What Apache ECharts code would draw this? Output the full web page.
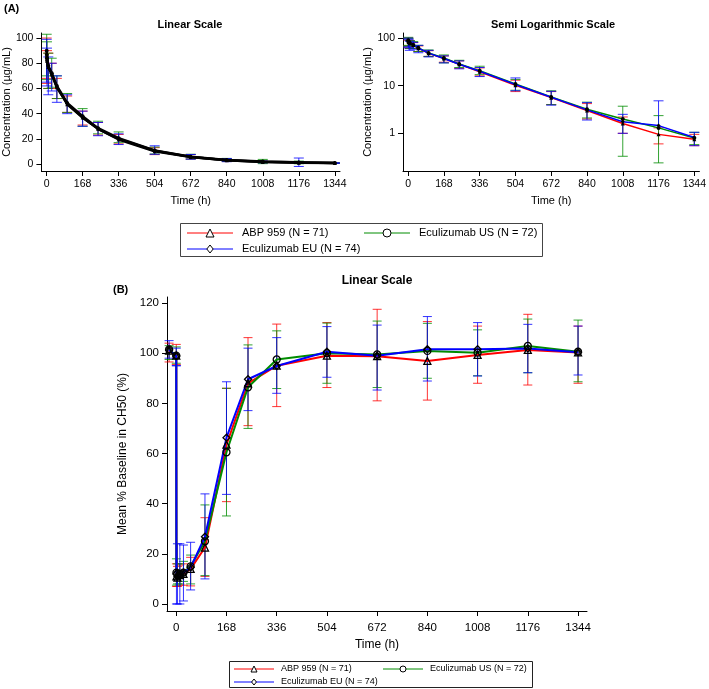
<!DOCTYPE html>
<html>
<head>
<meta charset="utf-8">
<script src="https://cdn.jsdelivr.net/npm/echarts@6/dist/echarts.min.js"></script>
<style>
html, body { margin: 0; padding: 0; background: #fff; }
#chart { width: 709px; height: 689px; }
</style>
</head>
<body>
<div id="chart"></div>
<script>
// (A) concentracao - tempos e medias
const pkTime = [0.6, 2, 8, 24, 48, 96, 168, 240, 336, 504, 672, 840, 1008, 1176, 1344];
const pkAbp   = [88, 82, 77, 71, 61, 47.5, 37, 28, 19.5, 10.2, 5.6, 3.0, 1.6, 0.95, 0.75];
const pkAbpLo = [68, 64, 60, 60, 52, 41, 31, 23, 16, 7.5, 4, 2, 1.0, 0.6, 0.55];
const pkAbpHi = [100, 90, 88, 80, 68, 54, 42, 33, 23.5, 13, 7.5, 4.2, 2.2, 1.3, 0.95];
const pkUs    = [90, 84, 78, 72, 62, 48.5, 38, 28.5, 20.5, 10.8, 5.8, 3.2, 2.0, 1.3, 0.8];
const pkUsLo  = [67, 70, 60, 61, 52, 41, 30, 24, 17, 8, 4, 2.1, 0.33, 0.24, 0.58];
const pkUsHi  = [103, 97, 88, 84, 70, 56, 44, 34, 25.5, 13.5, 7.8, 4.5, 3.7, 2.35, 1.05];
const pkEu    = [87, 82, 77, 72, 61, 48, 37, 28, 20, 10.6, 5.7, 3.1, 1.75, 1.45, 0.82];
const pkEuLo  = [65, 62, 55, 58, 49, 40, 30, 22.5, 15.5, 7.8, 3.9, 1.9, 1.0, -1.9, 0.55];
const pkEuHi  = [99, 92, 85, 80, 70, 55, 42, 33, 24, 14.5, 7.6, 4.4, 2.5, 4.8, 1.05];

// (B) CH50 - % do basal
const pdTime = [-24, 0, 0.6, 4, 12, 24, 48, 96, 168, 240, 336, 504, 672, 840, 1008, 1176, 1344];
const pdAbp   = [101, 99, 11, 10.5, 11.5, 12, 14, 22.5, 63.5, 88, 95, 99, 98.8, 96.9, 99.3, 101.3, 100.3];
const pdAbpLo = [96.5, 95.5, 7, 7, 7.5, 7.5, 7.2, 11, 40.8, 71.1, 78.7, 86.3, 81, 81.3, 88, 87.3, 88];
const pdAbpHi = [104, 103.5, 16, 15, 15.5, 16, 18.6, 34.4, 86, 106.2, 111.6, 112.2, 117.5, 112.6, 110.8, 115.5, 110.8];
const pdUs    = [101.5, 99, 12.5, 12, 12, 12.5, 15, 25, 60.5, 86.4, 97.5, 100, 99.5, 100.9, 100.2, 102.9, 100.6];
const pdUsLo  = [97.5, 96, 7.5, 8, 8, 9, 8, 11.3, 35.1, 70, 85.9, 88, 86.3, 90, 91, 92.2, 88.6];
const pdUsHi  = [103, 102.5, 18, 16, 16, 17, 19.5, 39.5, 86, 103.3, 108.9, 112, 112.8, 111.9, 109.3, 113.6, 113.2];
const pdEu    = [101.3, 98.9, 12, 11, 12, 12.5, 14.6, 26.8, 66.3, 89.6, 94.9, 100.6, 99, 101.6, 101.6, 101.9, 100.4];
const pdEuLo  = [98, 95, 0, 0, 0, 1.2, 5.6, 10, 43.7, 77.1, 84, 90.4, 85.3, 88.9, 90.9, 92.2, 91.3];
const pdEuHi  = [105, 102, 95, 24, 24, 23.5, 24.6, 43.9, 88.6, 102, 106.2, 110.6, 111.2, 114.6, 112.2, 111.5, 110.8];

const hourTicks = [0, 168, 336, 504, 672, 840, 1008, 1176, 1344];
const concTicks = [0, 20, 40, 60, 80, 100];
const logTicks = [1, 10, 100];
const ch50Ticks = [0, 20, 40, 60, 80, 100, 120];

const grupos = [
    {name: 'ABP 959 (N = 71)', cor: '#ff0000', simbolo: 'triangle',
     pk: pkAbp, pkLo: pkAbpLo, pkHi: pkAbpHi, pd: pdAbp, pdLo: pdAbpLo, pdHi: pdAbpHi},
    {name: 'Eculizumab US (N = 72)', cor: '#008c00', simbolo: 'circle',
     pk: pkUs, pkLo: pkUsLo, pkHi: pkUsHi, pd: pdUs, pdLo: pdUsLo, pdHi: pdUsHi},
    {name: 'Eculizumab EU (N = 74)', cor: '#0000ff', simbolo: 'diamond',
     pk: pkEu, pkLo: pkEuLo, pkHi: pkEuHi, pd: pdEu, pdLo: pdEuLo, pdHi: pdEuHi}
];

const fonte = "'Liberation Sans', Arial, sans-serif";

function barraErro(cor, cap, log) {
    return function (params, api) {
        const cs = params.coordSys;
        const x = api.value(0), lo = api.value(1), hi = api.value(2), mid = api.value(3);
        const limita = y => Math.max(cs.y, Math.min(cs.y + cs.height, y));
        const px = api.coord([x, mid])[0];
        const yHi = api.coord([x, hi])[1];
        const loOk = !log || lo > 0;
        const yLo = loOk ? api.coord([x, lo])[1] : api.coord([x, mid])[1];
        const estilo = {stroke: cor, lineWidth: 1, opacity: 0.8};
        const filhos = [{type: 'line', shape: {x1: px, y1: limita(yHi), x2: px, y2: limita(yLo)}, style: estilo}];
        if (yHi >= cs.y) filhos.push({type: 'line', shape: {x1: px - cap, y1: yHi, x2: px + cap, y2: yHi}, style: estilo});
        if (loOk && yLo <= cs.y + cs.height) filhos.push({type: 'line', shape: {x1: px - cap, y1: yLo, x2: px + cap, y2: yLo}, style: estilo});
        return {type: 'group', children: filhos};
    };
}

function eixo(extra, ticks, tamFonte, margem) {
    return Object.assign({
        type: 'value',
        axisLine: {show: true, onZero: false, lineStyle: {color: '#000', width: 1}},
        axisTick: {show: true, length: 5, customValues: ticks, lineStyle: {color: '#000'}},
        axisLabel: {color: '#000', fontSize: tamFonte, margin: margem, fontFamily: fonte,
                    customValues: ticks, formatter: v => String(v)},
        splitLine: {show: false},
        nameTextStyle: {color: '#000', fontSize: tamFonte + 0.5, fontFamily: fonte},
        nameLocation: 'middle'
    }, extra);
}

let series = [];

// grafico B (grid 2)
grupos.forEach(gr => {
    series.push({
        type: 'line', name: gr.name, xAxisIndex: 2, yAxisIndex: 2, z: 3,
        data: pdTime.map((t, i) => [t, gr.pd[i]]),
        symbol: gr.simbolo, symbolSize: 7,
        itemStyle: {color: 'rgba(0,0,0,0)', borderColor: '#000', borderWidth: 1.3},
        lineStyle: {color: gr.cor, width: 2}
    });
});
grupos.forEach(gr => {
    series.push({
        type: 'custom', xAxisIndex: 2, yAxisIndex: 2, z: 1,
        renderItem: barraErro(gr.cor, 4.5, false),
        data: pdTime.map((t, i) => [t, gr.pdLo[i], gr.pdHi[i], gr.pd[i]])
    });
});

// grafico A linear (grid 0) e semilog (grid 1)
[0, 1].forEach(g => {
    grupos.forEach(gr => {
        series.push({
            type: 'line', name: gr.name, xAxisIndex: g, yAxisIndex: g, z: 3,
            data: pkTime.map((t, i) => [t, gr.pk[i]]),
            symbol: gr.simbolo, symbolSize: 4,
            itemStyle: {color: '#000'},
            lineStyle: {color: g === 0 ? '#000' : gr.cor, width: g === 0 ? 2.5 : 1.5}
        });
    });
    grupos.forEach(gr => {
        series.push({
            type: 'custom', xAxisIndex: g, yAxisIndex: g, z: 1,
            renderItem: barraErro(gr.cor, 5, g === 1),
            data: pkTime.map((t, i) => [t, gr.pkLo[i], gr.pkHi[i], gr.pk[i]])
        });
    });
});

// legenda desenhada a mao (linha colorida + simbolo vazado + texto)
function simboloLegenda(tipo, cx, cy, s) {
    const estilo = {fill: '#fff', stroke: '#000', lineWidth: 1};
    const h = s / 2;
    if (tipo === 'circle') return {type: 'circle', shape: {cx: cx, cy: cy, r: h}, style: estilo};
    if (tipo === 'triangle') return {type: 'polygon', shape: {points: [[cx, cy - h], [cx + h, cy + h], [cx - h, cy + h]]}, style: estilo};
    return {type: 'polygon', shape: {points: [[cx, cy - h], [cx + h * 0.8, cy], [cx, cy + h], [cx - h * 0.8, cy]]}, style: estilo};
}

function itemLegenda(gr, x0, y, comp, tamSimb, tamFonte, gap) {
    return [
        {type: 'line', shape: {x1: x0, y1: y, x2: x0 + comp, y2: y}, style: {stroke: gr.cor, lineWidth: 1}},
        simboloLegenda(gr.simbolo, x0 + comp / 2, y, tamSimb),
        {type: 'text', x: x0 + comp + gap, y: y,
         style: {text: gr.name, fill: '#000', fontSize: tamFonte, fontFamily: fonte, verticalAlign: 'middle'}}
    ];
}

const legendas = [].concat(
    itemLegenda(grupos[0], 187, 233, 46, 8, 11, 9),
    itemLegenda(grupos[1], 364, 233, 46, 8, 11, 9),
    itemLegenda(grupos[2], 187, 249, 46, 8, 11, 9),
    itemLegenda(grupos[0], 234, 669, 40, 6, 9, 7),
    itemLegenda(grupos[1], 383, 669, 40, 6, 9, 7),
    itemLegenda(grupos[2], 234, 682, 40, 6, 9, 7)
);

const tituloEstilo = {fontSize: 11, fontWeight: 'bold', color: '#000', fontFamily: fonte};

const option = {
    animation: false,
    textStyle: {fontFamily: fonte},
    title: [
        {text: '(A)', left: 4, top: 3, padding: 0, textStyle: tituloEstilo},
        {text: 'Linear Scale', left: 190, top: 19, textAlign: 'center', padding: 0, textStyle: tituloEstilo},
        {text: 'Semi Logarithmic Scale', left: 553, top: 19, textAlign: 'center', padding: 0, textStyle: tituloEstilo},
        {text: '(B)', left: 113, top: 284, padding: 0, textStyle: tituloEstilo},
        {text: 'Linear Scale', left: 377, top: 275, textAlign: 'center', padding: 0,
         textStyle: Object.assign({}, tituloEstilo, {fontSize: 12})}
    ],
    graphic: [
        {type: 'rect', shape: {x: 180.5, y: 223.5, width: 362, height: 33}, style: {fill: 'none', stroke: '#444', lineWidth: 1}},
        {type: 'rect', shape: {x: 229.5, y: 661.5, width: 303, height: 26}, style: {fill: 'none', stroke: '#222', lineWidth: 1}}
    ].concat(legendas),
    grid: [
        {left: 41, top: 33, width: 299, height: 138},
        {left: 403, top: 33, width: 299, height: 138},
        {left: 167, top: 297, width: 420, height: 314}
    ],
    xAxis: [
        eixo({gridIndex: 0, min: -24, max: 1368, name: 'Time (h)', nameGap: 24}, hourTicks, 10.5, 8),
        eixo({gridIndex: 1, min: -24, max: 1368, name: 'Time (h)', nameGap: 24}, hourTicks, 10.5, 8),
        eixo({gridIndex: 2, min: -31, max: 1374, name: 'Time (h)', nameGap: 28}, hourTicks, 11.5, 11)
    ],
    yAxis: [
        eixo({gridIndex: 0, min: -5.5, max: 104, name: 'Concentration (µg/mL)', nameGap: 27}, concTicks, 10.5, 8),
        eixo({gridIndex: 1, type: 'log', logBase: 10, min: 0.162, max: 127, name: 'Concentration (µg/mL)', nameGap: 28}, logTicks, 10.5, 8),
        eixo({gridIndex: 2, min: -2.8, max: 122.4, name: 'Mean % Baseline in CH50 (%)', nameGap: 38}, ch50Ticks, 11.5, 8)
    ],
    series: series
};

const grafico = echarts.init(document.getElementById('chart'));
grafico.setOption(option);
</script>
</body>
</html>
